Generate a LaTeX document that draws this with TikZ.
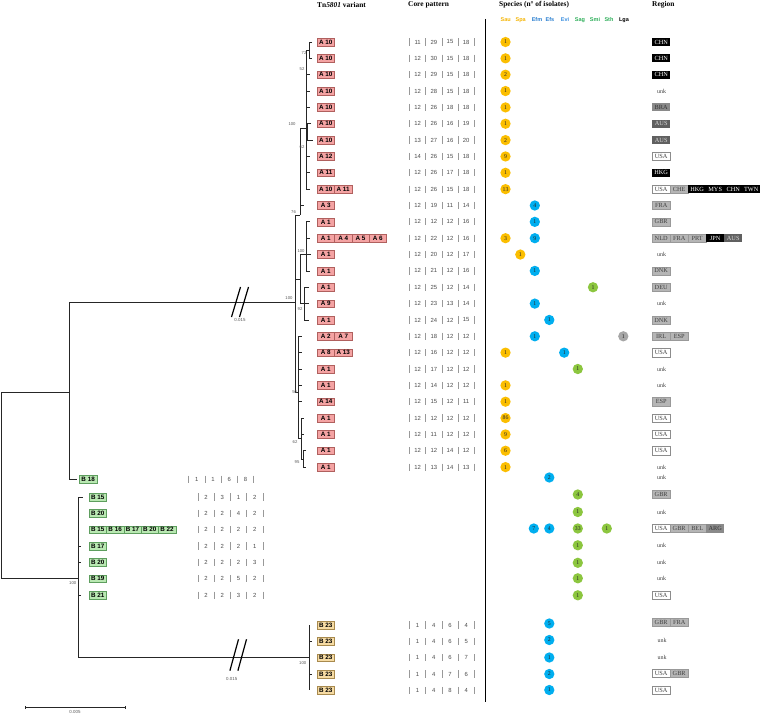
\documentclass[tikz,border=0pt]{standalone}
\usepackage{fontspec}
\setmainfont{Liberation Serif}
\setsansfont{Liberation Sans}
\definecolor{apink}{HTML}{F4A3A3}
\definecolor{aborder}{HTML}{B0605E}
\definecolor{bgreen}{HTML}{B9E8B2}
\definecolor{bborder}{HTML}{5E9E5E}
\definecolor{btan}{HTML}{F6DBA3}
\definecolor{btborder}{HTML}{A88A4E}
\definecolor{csau}{HTML}{FBBE00}
\definecolor{cefm}{HTML}{00AEEF}
\definecolor{csag}{HTML}{8CC63F}
\definecolor{clga}{HTML}{A6A6A6}
\definecolor{hsau}{HTML}{F5B400}
\definecolor{hefm}{HTML}{2A7FD0}
\definecolor{hevi}{HTML}{3A8FE0}
\definecolor{hsag}{HTML}{2EAF5A}
\definecolor{rlightc}{HTML}{B5B5B5}
\definecolor{rmidc}{HTML}{8A8A8A}
\definecolor{rdarkc}{HTML}{606060}
\newcommand{\fs}[1]{\fontsize{#1}{#1}\selectfont}
\newcommand{\labrow}[5]{\foreach \t [count=\k] in {#5} {\node[#4] (#1-\k) at ({#2+(\k-1)*17.3},#3) {\t};}}
\newcommand{\corepat}[7]{%
  \foreach \i in {0,...,4} {\draw[cbar] ({#2+\i*16.2},{#3-3.6}) -- ({#2+\i*16.2},{#3+3.6});}
  \node[cnum] (#1a) at ({#2+8.1},#3) {#4};
  \node[cnum] (#1b) at ({#2+24.3},#3) {#5};
  \node[cnum] (#1c) at ({#2+40.5},#3) {#6};
  \node[cnum] (#1d) at ({#2+56.7},#3) {#7};}
\newcommand{\spc}[5]{\node[spcirc,fill=#4] (#1) at (#2,#3) {#5};}
\newcommand{\regrow}[3]{\foreach \s/\t [count=\k] in {#3} {\node[rbox,\s] (#1-\k) at ({652+(\k-1)*18},#2) {\t};}}
\newcommand{\unkn}[2]{\node[unkn] (#1) at (661.5,#2) {unk};}
\begin{document}
\begin{tikzpicture}[x=1pt,y=-1pt,
  tl/.style={line width=0.8pt, draw=black!85},
  bs/.style={font=\sffamily\fs{4.2}, text=black!65, inner sep=0pt},
  abox/.style={draw=aborder, fill=apink, minimum width=17.3pt, minimum height=7.8pt, inner sep=0pt, anchor=west, font=\sffamily\bfseries\fs{6.3}},
  bbox/.style={abox, draw=bborder, fill=bgreen},
  tbox/.style={abox, draw=btborder, fill=btan},
  cbar/.style={draw=black!40, line width=0.5pt},
  cnum/.style={font=\sffamily\fs{5.9}, text=black!70, inner sep=0pt},
  spcirc/.style={circle, minimum size=10.3pt, inner sep=0pt, font=\fs{5.8}, text=black!85},
  rbox/.style={anchor=west, minimum width=18pt, minimum height=8.2pt, inner sep=0pt, font=\fs{6.3}},
  rw/.style={draw=black!45, fill=white, text=black!75},
  rl/.style={draw=black!40, fill=rlightc, text=black!75},
  rm/.style={fill=rmidc, text=black!80},
  rd/.style={fill=rdarkc, text=white!85!black},
  rb/.style={fill=black, text=white},
  unkn/.style={font=\fs{6}, text=black!75, inner sep=0pt},
  hdr/.style={font=\bfseries\fs{7.4}, anchor=west, inner sep=0pt},
  shdr/.style={font=\sffamily\bfseries\fs{5.5}, inner sep=0pt},
  brk/.style={line width=1.2pt, draw=black}]
\useasboundingbox (0,0) rectangle (760,714);
\fill[white] (0,0) rectangle (760,714);

% headers
\node[hdr] (h1) at (317,5) {Tn\textit{5801} variant};
\node[hdr] (h2) at (408,5) {Core pattern};
\node[hdr] (h3) at (499,5) {Species (n\textdegree{} of isolates)};
\node[hdr] (h4) at (652,5) {Region};
\foreach \n/\x/\c in {Sau/505.7/hsau, Spa/520.7/hsau, Efm/537/hefm, Efs/550/hefm, Evi/565/hevi, Sag/580/hsag, Smi/595/hsag, Sth/609/hsag, Lga/624/black}
  \node[shdr,text=\c] (h-\n) at (\x,20) {\n};
\draw[line width=1pt] (485,19) -- (485,702);

% ---------------- tree ----------------
\begin{scope}[tl]
% root
\draw (1.5,392) -- (1.5,578.75);
\draw (1.5,392) -- (69,392);
\draw (1.5,578.75) -- (78.5,578.75);
% node A-clade + B18
\draw (69,302) -- (69,479.2) -- (77,479.2);
\draw (69,302) -- (295,302);
% A clade
\draw (295,215) -- (295,392);
\draw (295,215) -- (300,215);
\draw (295,279) -- (300,279);
\draw (295,392) -- (298,392);
% upper group
\draw (300,128) -- (300,215);
\draw (300,205.5) -- (304,205.5);
\draw (300,128) -- (307,128);
\draw (306,50.2) -- (306,189.15);
\foreach \y in {74.7,91.05,107.4,156.45,172.8,189.15} \draw (306,\y) -- (310,\y);
\draw (306,50.2) -- (309,50.2);
\draw (312,42) -- (309,42) -- (309,58.35) -- (312,58.35);
\draw (311,123.75) -- (307,123.75) -- (307,140.1) -- (313,140.1);
% middle group
\draw (300,254.55) -- (300,303.6);
\draw (300,254.55) -- (306,254.55);
\draw (306,221.85) -- (306,270.9);
\foreach \y in {221.85,238.2,270.9} \draw (306,\y) -- (310,\y);
\draw (306,254.55) -- (311,254.55);
\draw (300,303.6) -- (309,303.6);
\draw (309,287.25) -- (304,287.25) -- (304,319.95) -- (309,319.95);
% lower group
\draw (298,336.3) -- (298,438);
\foreach \y in {336.3,352.65,369,385.35,401.7} \draw (298,\y) -- (302,\y);
\draw (298,438) -- (301,438);
\draw (301,418.05) -- (301,459);
\foreach \y in {418.05,434.4} \draw (301,\y) -- (304,\y);
\draw (301,459) -- (303,459);
\draw (306,450.75) -- (303,450.75) -- (303,467.1) -- (306,467.1);
% B clade
\draw (78.5,497) -- (78.5,657.7);
\draw (78.5,497) -- (83,497);
\foreach \y in {546.05,562.4,595.1} \draw (78.5,\y) -- (81,\y);
\draw (78.5,657.7) -- (309,657.7);
\draw (309,625) -- (309,690.4);
\foreach \y in {641.35,674.05} \draw (309,\y) -- (312,\y);
% scale bar
\draw[line width=0.6pt] (25,707.3) -- (125.7,707.3);
\draw[line width=0.6pt] (25,705.8) -- (25,708.8);
\draw[line width=0.6pt] (125.7,705.8) -- (125.7,708.8);
\end{scope}
% break marks
\foreach \cx in {236,244} \draw[brk] ({\cx-4.5},317) -- ({\cx+4.5},287);
\foreach \cx in {234.2,242.2} \draw[brk] ({\cx-4.3},670.7) -- ({\cx+4.3},639.3);
\node[bs,font=\sffamily\fs{4.4}] (brA) at (240,320) {0.015};
\node[bs,font=\sffamily\fs{4.4}] (brB) at (231.7,679.3) {0.015};
\node[bs,font=\sffamily\fs{4.4}] (scl) at (75,711.5) {0.005};
% bootstrap labels
\node[bs] (b1) at (304,53) {72};
\node[bs] (b2) at (302,69) {52};
\node[bs] (b3) at (292,124) {100};
\node[bs] (b4) at (302,147) {62};
\node[bs] (b5) at (293.5,212) {76};
\node[bs] (b6) at (301,251.5) {100};
\node[bs] (b7) at (289,298) {100};
\node[bs] (b8) at (300,309) {92};
\node[bs] (b9) at (294.7,391.7) {50};
\node[bs] (b10) at (295,442) {62};
\node[bs] (b11) at (297,462) {95};
\node[bs] (b12) at (72.7,582.7) {100};
\node[bs] (b13) at (302.7,662.7) {100};

% ---------------- A rows ----------------
\labrow{a1}{317}{42}{abox}{A 10}
\labrow{a2}{317}{58.35}{abox}{A 10}
\labrow{a3}{317}{74.7}{abox}{A 10}
\labrow{a4}{317}{91.05}{abox}{A 10}
\labrow{a5}{317}{107.4}{abox}{A 10}
\labrow{a6}{317}{123.75}{abox}{A 10}
\labrow{a7}{317}{140.1}{abox}{A 10}
\labrow{a8}{317}{156.45}{abox}{A 12}
\labrow{a9}{317}{172.8}{abox}{A 11}
\labrow{a10}{317}{189.15}{abox}{A 10,A 11}
\labrow{a11}{317}{205.5}{abox}{A 3}
\labrow{a12}{317}{221.85}{abox}{A 1}
\labrow{a13}{317}{238.2}{abox}{A 1,A 4,A 5,A 6}
\labrow{a14}{317}{254.55}{abox}{A 1}
\labrow{a15}{317}{270.9}{abox}{A 1}
\labrow{a16}{317}{287.25}{abox}{A 1}
\labrow{a17}{317}{303.6}{abox}{A 9}
\labrow{a18}{317}{319.95}{abox}{A 1}
\labrow{a19}{317}{336.3}{abox}{A 2,A 7}
\labrow{a20}{317}{352.65}{abox}{A 8,A 13}
\labrow{a21}{317}{369}{abox}{A 1}
\labrow{a22}{317}{385.35}{abox}{A 1}
\labrow{a23}{317}{401.7}{abox}{A 14}
\labrow{a24}{317}{418.05}{abox}{A 1}
\labrow{a25}{317}{434.4}{abox}{A 1}
\labrow{a26}{317}{450.75}{abox}{A 1}
\labrow{a27}{317}{467.1}{abox}{A 1}

\corepat{ca1}{409.5}{42}{11}{29}{15}{18}
\corepat{ca2}{409.5}{58.35}{12}{30}{15}{18}
\corepat{ca3}{409.5}{74.7}{12}{29}{15}{18}
\corepat{ca4}{409.5}{91.05}{12}{28}{15}{18}
\corepat{ca5}{409.5}{107.4}{12}{26}{18}{18}
\corepat{ca6}{409.5}{123.75}{12}{26}{16}{19}
\corepat{ca7}{409.5}{140.1}{13}{27}{16}{20}
\corepat{ca8}{409.5}{156.45}{14}{26}{15}{18}
\corepat{ca9}{409.5}{172.8}{12}{26}{17}{18}
\corepat{ca10}{409.5}{189.15}{12}{26}{15}{18}
\corepat{ca11}{409.5}{205.5}{12}{19}{11}{14}
\corepat{ca12}{409.5}{221.85}{12}{12}{12}{16}
\corepat{ca13}{409.5}{238.2}{12}{22}{12}{16}
\corepat{ca14}{409.5}{254.55}{12}{20}{12}{17}
\corepat{ca15}{409.5}{270.9}{12}{21}{12}{16}
\corepat{ca16}{409.5}{287.25}{12}{25}{12}{14}
\corepat{ca17}{409.5}{303.6}{12}{23}{13}{14}
\corepat{ca18}{409.5}{319.95}{12}{24}{12}{15}
\corepat{ca19}{409.5}{336.3}{12}{18}{12}{12}
\corepat{ca20}{409.5}{352.65}{12}{16}{12}{12}
\corepat{ca21}{409.5}{369}{12}{17}{12}{12}
\corepat{ca22}{409.5}{385.35}{12}{14}{12}{12}
\corepat{ca23}{409.5}{401.7}{12}{15}{12}{11}
\corepat{ca24}{409.5}{418.05}{12}{12}{12}{12}
\corepat{ca25}{409.5}{434.4}{12}{11}{12}{12}
\corepat{ca26}{409.5}{450.75}{12}{12}{14}{12}
\corepat{ca27}{409.5}{467.1}{12}{13}{14}{13}

\spc{sa1}{505.5}{42}{csau}{1}
\spc{sa2}{505.5}{58.35}{csau}{1}
\spc{sa3}{505.5}{74.7}{csau}{2}
\spc{sa4}{505.5}{91.05}{csau}{1}
\spc{sa5}{505.5}{107.4}{csau}{1}
\spc{sa6}{505.5}{123.75}{csau}{1}
\spc{sa7}{505.5}{140.1}{csau}{2}
\spc{sa8}{505.5}{156.45}{csau}{9}
\spc{sa9}{505.5}{172.8}{csau}{1}
\spc{sa10}{505.5}{189.15}{csau}{13}
\spc{sa11}{534.8}{205.5}{cefm}{4}
\spc{sa12}{534.8}{221.85}{cefm}{1}
\spc{sa13a}{505.5}{238.2}{csau}{3}
\spc{sa13b}{534.8}{238.2}{cefm}{9}
\spc{sa14}{520.3}{254.55}{csau}{1}
\spc{sa15}{534.8}{270.9}{cefm}{1}
\spc{sa16}{593}{287.25}{csag}{1}
\spc{sa17}{534.8}{303.6}{cefm}{1}
\spc{sa18}{549.3}{319.95}{cefm}{1}
\spc{sa19a}{534.8}{336.3}{cefm}{1}
\spc{sa19b}{623.3}{336.3}{clga}{1}
\spc{sa20a}{505.5}{352.65}{csau}{1}
\spc{sa20b}{564.2}{352.65}{cefm}{1}
\spc{sa21}{577.8}{369}{csag}{1}
\spc{sa22}{505.5}{385.35}{csau}{1}
\spc{sa23}{505.5}{401.7}{csau}{1}
\spc{sa24}{505.5}{418.05}{csau}{86}
\spc{sa25}{505.5}{434.4}{csau}{9}
\spc{sa26}{505.5}{450.75}{csau}{6}
\spc{sa27}{505.5}{467.1}{csau}{1}

\regrow{ra1}{42}{rb/CHN}
\regrow{ra2}{58.35}{rb/CHN}
\regrow{ra3}{74.7}{rb/CHN}
\unkn{ra4}{91.05}
\regrow{ra5}{107.4}{rm/BRA}
\regrow{ra6}{123.75}{rd/AUS}
\regrow{ra7}{140.1}{rd/AUS}
\regrow{ra8}{156.45}{rw/USA}
\regrow{ra9}{172.8}{rb/HKG}
\regrow{ra10}{189.15}{rw/USA,rl/CHE,rb/HKG,rb/MYS,rb/CHN,rb/TWN}
\regrow{ra11}{205.5}{rl/FRA}
\regrow{ra12}{221.85}{rl/GBR}
\regrow{ra13}{238.2}{rl/NLD,rl/FRA,rl/PRT,rb/JPN,rd/AUS}
\unkn{ra14}{254.55}
\regrow{ra15}{270.9}{rl/DNK}
\regrow{ra16}{287.25}{rl/DEU}
\unkn{ra17}{303.6}
\regrow{ra18}{319.95}{rl/DNK}
\regrow{ra19}{336.3}{rl/IRL,rl/ESP}
\regrow{ra20}{352.65}{rw/USA}
\unkn{ra21}{369}
\unkn{ra22}{385.35}
\regrow{ra23}{401.7}{rl/ESP}
\regrow{ra24}{418.05}{rw/USA}
\regrow{ra25}{434.4}{rw/USA}
\regrow{ra26}{450.75}{rw/USA}
\unkn{ra27}{467.1}

% ---------------- B rows ----------------
\labrow{b18}{79.3}{479.2}{bbox}{B 18}
\labrow{bb1}{89}{497}{bbox}{B 15}
\labrow{bb2}{89}{513.35}{bbox}{B 20}
\labrow{bb3}{89}{529.7}{bbox}{B 15,B 16,B 17,B 20,B 22}
\labrow{bb4}{89}{546.05}{bbox}{B 17}
\labrow{bb5}{89}{562.4}{bbox}{B 20}
\labrow{bb6}{89}{578.75}{bbox}{B 19}
\labrow{bb7}{89}{595.1}{bbox}{B 21}

\corepat{cb0}{188.7}{479.2}{1}{1}{6}{8}
\corepat{cb1}{198}{497}{2}{3}{1}{2}
\corepat{cb2}{198}{513.35}{2}{2}{4}{2}
\corepat{cb3}{198}{529.7}{2}{2}{2}{2}
\corepat{cb4}{198}{546.05}{2}{2}{2}{1}
\corepat{cb5}{198}{562.4}{2}{2}{2}{3}
\corepat{cb6}{198}{578.75}{2}{2}{5}{2}
\corepat{cb7}{198}{595.1}{2}{2}{3}{2}

\spc{sb0}{549.3}{477.5}{cefm}{2}
\spc{sb1}{577.8}{494.5}{csag}{4}
\spc{sb2}{577.8}{512}{csag}{1}
\spc{sb3a}{533.8}{528.5}{cefm}{7}
\spc{sb3b}{549.3}{528.5}{cefm}{4}
\spc{sb3c}{577.8}{528.5}{csag}{33}
\spc{sb3d}{606.8}{528.5}{csag}{1}
\spc{sb4}{577.8}{545.3}{csag}{1}
\spc{sb5}{577.8}{562.8}{csag}{1}
\spc{sb6}{577.8}{578.3}{csag}{1}
\spc{sb7}{577.8}{595.3}{csag}{1}

\unkn{rb0}{477.5}
\regrow{rb1}{494.5}{rl/GBR}
\unkn{rb2}{512}
\regrow{rb3}{528.5}{rw/USA,rl/GBR,rl/BEL,rm/ARG}
\unkn{rb4}{545.3}
\unkn{rb5}{562.8}
\unkn{rb6}{578.3}
\regrow{rb7}{595.3}{rw/USA}

% ---------------- B23 rows ----------------
\labrow{t1}{317}{625}{tbox}{B 23}
\labrow{t2}{317}{641.35}{tbox}{B 23}
\labrow{t3}{317}{657.7}{tbox}{B 23}
\labrow{t4}{317}{674.05}{tbox}{B 23}
\labrow{t5}{317}{690.4}{tbox}{B 23}

\corepat{ct1}{409.5}{625}{1}{4}{6}{4}
\corepat{ct2}{409.5}{641.35}{1}{4}{6}{5}
\corepat{ct3}{409.5}{657.7}{1}{4}{6}{7}
\corepat{ct4}{409.5}{674.05}{1}{4}{7}{6}
\corepat{ct5}{409.5}{690.4}{1}{4}{8}{4}

\spc{st1}{549.3}{623.5}{cefm}{5}
\spc{st2}{549.3}{640}{cefm}{2}
\spc{st3}{549.3}{657.5}{cefm}{1}
\spc{st4}{549.3}{674}{cefm}{2}
\spc{st5}{549.3}{690}{cefm}{1}

\regrow{rt1}{622.5}{rl/GBR,rl/FRA}
\node[unkn] (rt2) at (662,640) {unk};
\node[unkn] (rt3) at (662,657) {unk};
\regrow{rt4}{673.5}{rw/USA,rl/GBR}
\regrow{rt5}{690.5}{rw/USA}
\end{tikzpicture}
\end{document}
